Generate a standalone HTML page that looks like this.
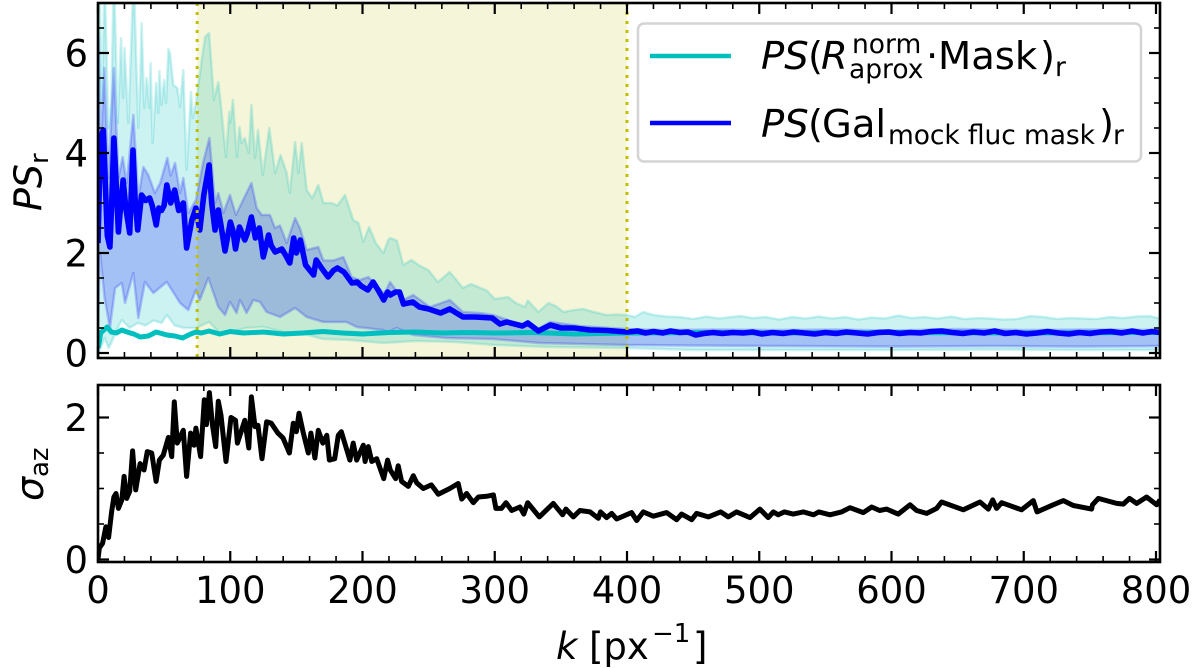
<!DOCTYPE html>
<html>
<head>
<meta charset="utf-8">
<title>Power spectrum chart</title>
<style>
html,body{margin:0;padding:0;background:#fff}
svg{display:block}
text{font-family:"DejaVu Sans","Liberation Sans",sans-serif;fill:#000}
.it{font-style:italic}
</style>
</head>
<body>
<svg id="chart" xmlns="http://www.w3.org/2000/svg" width="1200" height="668" viewBox="0 0 1200 668">
<defs>
<clipPath id="clipTop"><rect x="98" y="3" width="1062" height="355"/></clipPath>
<clipPath id="clipBot"><rect x="98" y="385" width="1062" height="177"/></clipPath>
</defs>
<g id="topPlot" clip-path="url(#clipTop)"></g>
<g id="botPlot" clip-path="url(#clipBot)"></g>
<g id="axes"></g>

<g>
<rect x="638" y="23.5" width="503" height="138" rx="6" ry="6" fill="#fff" fill-opacity="0.85" stroke="#d4d4d4" stroke-width="2.5"/>
<line x1="650" y1="56" x2="731" y2="56" stroke="#00bfbf" stroke-width="4.5"/>
<line x1="650" y1="123" x2="731" y2="123" stroke="#0000ff" stroke-width="4.5"/>
<g>
<text x="761" y="69" font-size="38.5" class="it">PS</text>
<text x="808" y="69" font-size="38.5">(</text>
<text x="821" y="69" font-size="38.5" class="it">R</text>
<text x="852" y="53" font-size="26.5">norm</text>
<text x="849" y="78" font-size="26.5">aprox</text>
<text x="926" y="69" font-size="38.5">·</text>
<text x="938" y="69" font-size="38.5">Mask</text>
<text x="1040" y="69" font-size="38.5">)</text>
<text x="1055" y="76" font-size="26.5">r</text>
</g>
<g>
<text x="761" y="137" font-size="38.5" class="it">PS</text>
<text x="808" y="137" font-size="38.5">(</text>
<text x="822" y="137" font-size="38.5">Gal</text>
<text x="888" y="144" font-size="26.5" textLength="207" lengthAdjust="spacing">mock fluc mask</text>
<text x="1099" y="137" font-size="38.5">)</text>
<text x="1113" y="144" font-size="26.5">r</text>
</g>
</g>

<g transform="translate(41.5,211) rotate(-90)">
<text x="0" y="0" font-size="38" class="it">PS</text>
<text x="47" y="6.5" font-size="26">r</text>
</g>
<g transform="translate(43,501) rotate(-90)">
<text x="0" y="0" font-size="38" class="it">σ</text>
<text x="24" y="5" font-size="26">az</text>
</g>
<g>
<text x="556" y="659" font-size="37" class="it">k</text>
<text x="589" y="659" font-size="37">[px</text>
<text x="652" y="642" font-size="26">−1</text>
<text x="693" y="659" font-size="37">]</text>
</g>
</svg>

<script>
var xTicksMajor = [0,100,200,300,400,500,600,700,800];
var yTicksTop = [0,2,4,6];
var yTicksBot = [0,2];
var bandRange = [75,400];

var blueMeanK = [0,1,2,4,5.5,7,9,10.5,12,13.5,
15.4,17,19,21,24,26.5,28,30,33,36,
39,41,44,46,48,50,52,55,58,61,
64.5,67,71,74,77,80,84,86,88.5,91,
93,96,100,102,104,107,111,113,116,119,
122,125,129,131,134,139,142,145,148,150,
153,157,163,165,169,174,178,181,186,192,
196,199,204,208,212,216,219,221,225,228,
231,238,243,250,259,266,276,285,298,304,
309,321,325,333,342,350,360,372,385,400,
408,414,420,427,433,440,446,452,458,465,
472,480,488,495,502,510,518,526,534,542,
550,558,566,574,582,590,598,606,614,622,
630,638,646,654,662,670,678,686,694,702,
710,718,726,734,742,750,758,766,774,782,
790,797,803];
var blueMeanV = [2.2,3.3,4.3,4.46,3.4,2.35,2.12,3.1,4.3,3.5,
2.42,2.9,3.46,2.9,2.4,4.06,3.1,2.46,3.16,3.05,
3.1,2.95,2.56,2.9,2.85,2.95,3.36,3.0,3.26,2.85,
3.0,2.1,2.66,2.9,2.46,3.16,3.76,3.0,2.46,2.86,
2.55,2.04,2.62,2.45,2.08,2.52,2.26,2.4,2.72,2.3,
2.5,1.92,2.36,2.15,2.02,2.08,1.95,1.8,2.3,2.0,
2.26,1.76,1.56,1.86,1.7,1.52,1.65,1.7,1.62,1.4,
1.42,1.34,1.26,1.42,1.25,1.06,1.22,1.16,1.22,1.22,
.98,1.02,.92,.88,.8,.88,.72,.72,.7,.58,
.62,.54,.6,.44,.56,.5,.5,.46,.45,.42,
.44,.4,.43,.4,.44,.41,.42,.36,.39,.41,
.39,.41,.4,.42,.38,.41,.39,.42,.4,.38,
.41,.39,.42,.4,.38,.41,.42,.39,.41,.4,
.43,.44,.41,.39,.42,.4,.44,.39,.41,.38,
.4,.43,.4,.38,.41,.39,.42,.43,.4,.44,
.4,.43,.41];

var blueUpperK = [0,.3,2,4.8,7.8,12,15.4,18.7,21.7,26.7,
30.5,34.3,38,43,47,52.4,55,58.2,62,64.5,
68.3,74,79.6,84.2,88.5,91,94.8,99.8,104.3,108.6,
116,120,123.8,130,133.8,137.6,142.7,149,152.7,157.8,
166.6,170.4,178,185.5,191.8,198,204.4,215.8,218,220.8,
230.8,238.4,251,266,276,289,299,314,333,342,
364.4,400,430,470,510,560,600,650,700,750,803];
var blueUpperV = [4.5,6.3,4,5.7,3.5,5.7,3.5,3.92,3.4,4.76,
3.1,3.72,3.56,3.2,3.4,3.9,3.55,3.8,3.2,3.5,
2.8,3.06,3.82,4.3,3,3.2,2.8,3.16,2.76,3.0,
3.4,2.9,2.76,2.76,2.5,2.55,2.2,2.7,2.5,2.06,
2.12,1.85,1.85,1.92,1.52,1.46,1.52,1.2,1.26,1.42,
1.06,1.16,.92,1.06,.82,.8,.76,.62,.48,.62,
.54,.48,.46,.47,.46,.47,.45,.48,.46,.47,.46];

var blueLowerK = [0,1.5,5,9,12.9,18,20.4,26.7,30.5,35.5,
41.8,52,62,68.3,74,77,83.4,91,96,99.8,
104.8,107.4,112.4,117.5,122.5,127.5,137.6,149,157.8,170.4,
188,195.6,215.8,218,225.8,238.4,263.6,299,334,400,
450,520,600,680,740,803];
var blueLowerV = [.6,2,1.1,.5,1.3,1.4,1,1.6,.7,1.42,
1.2,1.42,1,.86,1.26,1.06,1.5,.92,.76,1.02,
.8,1.06,.8,1.06,1.02,.82,.72,.9,.72,.62,
.62,.52,.46,.4,.5,.36,.3,.28,.2,.16,
.15,.14,.13,.14,.13,.14];

var cyanUpperK = [0,1,3,5,8,10,12,15,17.4,19,
20,23,27,30.5,32,33,35,36.8,38.8,39.8,
41.3,43.9,45.6,46.4,48,50,51.4,53.2,54.4,57,
60,62,64.5,67,70.3,71.6,74,78.4,81,84,
87.7,91,92.8,96.8,99.3,100,102,105,107,108.6,
111,114,116,118.7,121,124.5,129.5,134,138,142.7,
145,149,151.5,154,157.8,162,166.6,170.4,176.7,181,
186.8,193,197,200.6,205,210,215.8,219.5,220.8,226,
230.8,237,243,249.7,257,266,276,282,287.6,293.9,
300,305,310,316,322.8,325,333,340.5,346,352,
360,367,375,384.6,392,400,406,412,420,430,
440,450,460,470,478,486,495,505,515,525,
535,545,555,565,575,585,595,605,615,625,
635,645,655,665,675,685,695,705,715,725,
735,745,755,765,775,785,795,803];
var cyanUpperV = [1.5,7.5,5,7.5,4.5,5,7.6,4.6,6.3,5.1,
6.1,4.6,7.6,4.5,5.5,6.6,4.9,5.5,4.9,5.8,
4.2,5.4,4.8,5.64,4.96,5.46,5,6.08,6,5.36,
5.3,4.92,5.66,3.66,5.22,4.7,5,5.86,6.32,6.4,
5.06,5.42,5,3.92,4.82,4.6,5.06,3.92,4.52,4.2,
4.3,4,4.96,3.9,4.46,3.56,4.5,3.6,3.96,3.6,
3.2,4.22,3.6,4.2,3.26,3.1,3.36,3,3,2.95,
3.16,2.66,2.6,2.22,2.52,2.2,2,2.26,2.3,2.25,
1.76,1.86,1.75,1.66,1.42,1.62,1.3,1.38,1.32,1.25,
1.08,1.1,1.12,1.0,.92,1.05,.82,1,.94,.82,
.86,.88,.82,.76,.77,.76,.72,.82,.76,.73,
.72,.68,.73,.69,.72,.74,.7,.72,.67,.72,
.69,.73,.69,.72,.67,.71,.69,.75,.7,.72,
.69,.73,.68,.7,.69,.67,.68,.74,.72,.68,
.7,.69,.68,.72,.7,.73,.74,.69];

var cyanLowerK = [0,2,5,8,10,14,18,24,30,36,
42,48,52,58,65,74,84,92,100,112,
125,140,156,170,190,216,240,270,300,340,
400,450,520,600,680,750,803];
var cyanLowerV = [0,.1,.3,.1,.2,.45,.66,.5,.6,.55,
.65,.6,.76,.55,.5,.5,.62,.4,.42,.5,
.52,.42,.38,.28,.26,.2,.24,.22,.16,.12,
.1,.06,.06,.06,.07,.06,.06];

var cyanMeanK = [0,1,2,4,7,10,14,18,22,27,32,38,44,52,58,64,70,74,78,84,92,100,110,125,140,155,170,185,200,220,240,260,280,300,330,360,400,460,520,600,700,803];
var cyanMeanV = [.1,.22,.4,.45,.52,.42,.4,.46,.42,.38,.32,.34,.42,.36,.34,.3,.38,.42,.4,.44,.38,.43,.4,.42,.38,.4,.43,.4,.38,.41,.42,.4,.41,.4,.41,.38,.4,.41,.4,.41,.4,.41];

var sigmaK = [0,1,3.5,6,8,10.3,12,13.6,15.4,18,19.7,21.7,24,26.2,28.5,31.8,34.8,37.3,40.6,43.9,46.4,49.4,53.2,55.7,57.7,60,64.5,67,70,72.6,74,77.6,80.4,82,84.2,86.5,89,91,93,96.8,100.6,104,105.4,111,114,116,118.7,121,124,127.5,131,136,140,144.7,147.7,150,152,155,159,161,164,166.6,170,173,175,179,181.7,184,190.5,193,195.6,200.6,202,204.4,207,210.7,216,219,221,225,227,229.6,234.6,238.4,241,246,252,257.3,266,272.4,275,278.7,283.8,287.6,293.9,299,300.9,305,308.5,312.8,319,322,324.9,333.7,344.3,351.3,353.8,359.4,364.4,372,378.3,380,384.6,388.4,392.2,403.5,407.3,412.3,419.9,430,437.5,441.3,448.9,452.6,461.5,470.8,476.6,482.9,493,500.5,506.8,510.6,514.4,519,525.7,533.3,541,545,553.5,562.3,568.6,578.7,585,591,596.3,605.1,614,619,626.6,634.1,637.9,654.3,666.9,673.2,676.5,679.5,683.3,698.4,707.2,710,722.3,730,737.5,751.3,752,756.4,770.2,775.3,780,785.4,792.9,800.5,803];
var sigmaV = [0,.16,.23,.46,.31,.67,.88,.93,.72,.84,1.17,.86,.96,1.53,.98,1.35,1.26,1.52,1.5,1.1,1.4,1.47,1.72,1.45,2.22,1.64,1.82,1.17,1.78,1.61,1.85,1.45,2.25,1.9,2.35,1.9,1.59,2.23,2.03,1.38,2.0,1.96,1.64,1.96,1.57,2.29,1.87,1.89,1.42,1.94,1.92,1.78,1.71,1.5,1.92,1.8,2.06,1.8,1.5,1.78,1.43,1.82,1.64,1.75,1.4,1.42,1.75,1.8,1.4,1.64,1.4,1.61,1.38,1.59,1.38,1.42,1.14,1.4,1.26,1.14,1.32,1.1,1.03,1.18,1.08,1.0,1.05,.92,1.0,1.07,.85,.93,.8,.88,.89,.91,.72,.72,.8,.69,.74,.64,.8,.6,.79,.63,.71,.6,.69,.67,.58,.67,.59,.65,.57,.66,.55,.67,.61,.66,.56,.64,.56,.65,.6,.67,.6,.67,.59,.71,.59,.67,.63,.67,.64,.67,.63,.67,.63,.67,.73,.66,.74,.69,.71,.64,.77,.69,.65,.72,.81,.7,.81,.71,.84,.72,.8,.7,.83,.67,.77,.83,.76,.71,.77,.86,.79,.78,.86,.79,.88,.77,.84,.85];

var NS = 'http://www.w3.org/2000/svg';
function xOf(k){ return 98 + 1.3225 * k; }
function yTop(v){ return 353 - 50 * v; }
function yBot(v){ return 559.5 - 71 * v; }

function mk(tag, attrs, parent){
  var el = document.createElementNS(NS, tag);
  for (var a in attrs) el.setAttribute(a, attrs[a]);
  parent.appendChild(el);
  return el;
}
function linePts(ks, vs, yf){
  return ks.map(function(k,i){ return xOf(k).toFixed(1) + ',' + yf(vs[i]).toFixed(1); });
}

var topG = document.getElementById('topPlot');
var botG = document.getElementById('botPlot');
var axG = document.getElementById('axes');

var band = mk('rect', {x:xOf(bandRange[0]), y:3, width:xOf(bandRange[1])-xOf(bandRange[0]), height:355, fill:'#bfbf00', 'fill-opacity':0.15}, topG);



var cyanFill = mk('polygon', {points: linePts(cyanUpperK,cyanUpperV,yTop).concat(linePts(cyanLowerK,cyanLowerV,yTop).reverse()).join(' '), fill:'#00bfbf', 'fill-opacity':0.2}, topG);



var blueFill = mk('polygon', {points: linePts(blueUpperK,blueUpperV,yTop).concat(linePts(blueLowerK,blueLowerV,yTop).reverse()).join(' '), fill:'#0000ff', 'fill-opacity':0.2}, topG);



var cyanUp = mk('polyline', {points: linePts(cyanUpperK,cyanUpperV,yTop).join(' '), fill:'none', stroke:'#00bfbf', 'stroke-opacity':0.2, 'stroke-width':2.5, 'stroke-linejoin':'round'}, topG);



var cyanLo = mk('polyline', {points: linePts(cyanLowerK,cyanLowerV,yTop).join(' '), fill:'none', stroke:'#00bfbf', 'stroke-opacity':0.2, 'stroke-width':2.5, 'stroke-linejoin':'round'}, topG);



var blueUp = mk('polyline', {points: linePts(blueUpperK,blueUpperV,yTop).join(' '), fill:'none', stroke:'#0000ff', 'stroke-opacity':0.2, 'stroke-width':2.5, 'stroke-linejoin':'round'}, topG);



var blueLo = mk('polyline', {points: linePts(blueLowerK,blueLowerV,yTop).join(' '), fill:'none', stroke:'#0000ff', 'stroke-opacity':0.2, 'stroke-width':2.5, 'stroke-linejoin':'round'}, topG);



var cyanMean = mk('polyline', {points: linePts(cyanMeanK,cyanMeanV,yTop).join(' '), fill:'none', stroke:'#00bfbf', 'stroke-width':5, 'stroke-linejoin':'round'}, topG);



var blueMean = mk('polyline', {points: linePts(blueMeanK,blueMeanV,yTop).join(' '), fill:'none', stroke:'#0000ff', 'stroke-width':5.6, 'stroke-linejoin':'round'}, topG);



bandRange.forEach(function(k){
  var d = mk('line', {x1:xOf(k), x2:xOf(k), y1:3, y2:358, stroke:'#bfbf00', 'stroke-width':3, 'stroke-dasharray':'3 6'}, topG);
  
  
});

var sigmaLine = mk('polyline', {points: linePts(sigmaK,sigmaV,yBot).join(' '), fill:'none', stroke:'#000', 'stroke-width':5, 'stroke-linejoin':'round'}, botG);



function tick(x1,y1,x2,y2,w){
  var t = mk('line', {x1:x1,y1:y1,x2:x2,y2:y2,stroke:'#000','stroke-width':w}, axG);
  
  
}
function drawFrame(top, bottom, yf, yMax){
  for (var k = 0; k <= 800; k += 20) {
    var major = k % 100 === 0;
    var len = major ? 11 : 6;
    var w = major ? 2.2 : 1.6;
    tick(xOf(k), top, xOf(k), top+len, w);
    tick(xOf(k), bottom, xOf(k), bottom-len, w);
  }
  for (var v = 0; v <= yMax; v += 0.5) {
    var maj = v % 2 === 0;
    var l = maj ? 11 : 6;
    var wd = maj ? 2.2 : 1.6;
    tick(98, yf(v), 98+l, yf(v), wd);
    tick(1160, yf(v), 1160-l, yf(v), wd);
  }
  var f = mk('rect', {x:98, y:top, width:1062, height:bottom-top, fill:'none', stroke:'#000', 'stroke-width':2.6}, axG);
  
  
}
drawFrame(3, 358, yTop, 7);
drawFrame(385, 562, yBot, 2.46);

yTicksTop.forEach(function(v){
  var t = mk('text', {x:88, y:yTop(v)+13.5, 'font-size':37, 'text-anchor':'end'}, axG);
  
  
  t.textContent = v;
});
yTicksBot.forEach(function(v){
  var t = mk('text', {x:88, y:yBot(v)+13.5, 'font-size':37, 'text-anchor':'end'}, axG);
  
  
  t.textContent = v;
});
xTicksMajor.forEach(function(k){
  var t = mk('text', {x:xOf(k), y:603, 'font-size':37, 'text-anchor':'middle'}, axG);
  
  
  t.textContent = k;
});
</script>
</body>
</html>
